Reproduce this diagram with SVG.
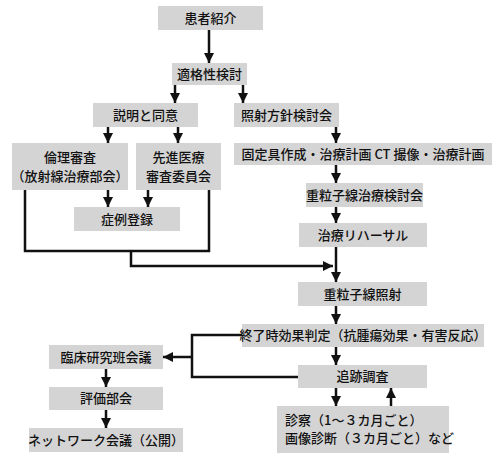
<svg xmlns="http://www.w3.org/2000/svg" width="500" height="461" viewBox="0 0 500 461">
<style>
.b{fill:#d4d4d4}
.t{font-family:"Noto Sans CJK JP","Noto Sans CJK SC",sans-serif;font-size:13px;font-weight:500;fill:#111;text-anchor:middle}
.c{fill:none;stroke:#111;stroke-width:2.5}
.a{fill:none;stroke:#111;stroke-width:2.5;marker-end:url(#ar)}
</style>
<defs>
<marker id="ar" viewBox="0 0 10 10" refX="10" refY="5" markerWidth="4" markerHeight="4" markerUnits="strokeWidth" orient="auto">
<path d="M0,0L10,5L0,10z" fill="#111"/>
</marker>
</defs>
<rect width="500" height="461" fill="#fff"/>
<g id="n1"><rect class="b" x="158" y="6" width="105" height="24"/><text class="t" x="210.5" y="23">患者紹介</text></g>
<g id="n2"><rect class="b" x="172" y="63" width="75" height="22"/><text class="t" x="209.5" y="79">適格性検討</text></g>
<g id="n3"><rect class="b" x="93" y="103" width="105" height="24"/><text class="t" x="145.5" y="120">説明と同意</text></g>
<g id="n4"><rect class="b" x="234" y="103" width="105" height="24"/><text class="t" x="286.5" y="120">照射方針検討会</text></g>
<g id="n5"><rect class="b" x="12" y="143" width="116" height="47"/><text class="t" x="70" y="162">倫理審査</text><text class="t" x="70" y="181">（放射線治療部会）</text></g>
<g id="n6"><rect class="b" x="136" y="143" width="85" height="47"/><text class="t" x="178.5" y="162">先進医療</text><text class="t" x="178.5" y="181">審査委員会</text></g>
<g id="n7"><rect class="b" x="74" y="207" width="106" height="24"/><text class="t" x="127" y="224">症例登録</text></g>
<g id="n8"><rect class="b" x="234" y="143" width="258" height="22"/><text class="t" x="363" y="159">固定具作成・治療計画 CT 撮像・治療計画</text></g>
<g id="n9"><rect class="b" x="306" y="183" width="117" height="24"/><text class="t" x="364.5" y="200">重粒子線治療検討会</text></g>
<g id="n10"><rect class="b" x="299" y="223" width="128" height="24"/><text class="t" x="363" y="240">治療リハーサル</text></g>
<g id="n11"><rect class="b" x="298" y="282" width="129" height="24"/><text class="t" x="362.5" y="299">重粒子線照射</text></g>
<g id="n12"><rect class="b" x="242" y="324" width="242" height="23"/><text class="t" x="363" y="340">終了時効果判定（抗腫瘍効果・有害反応）</text></g>
<g id="n13"><rect class="b" x="298" y="365" width="129" height="23"/><text class="t" x="362.5" y="381">追跡調査</text></g>
<g id="n14"><rect class="b" x="277" y="406" width="172" height="47"/><text class="t" x="285" y="425" style="text-anchor:start">診察（1～３カ月ごと）</text><text class="t" x="285" y="443" style="text-anchor:start">画像診断（３カ月ごと）など</text></g>
<g id="n15"><rect class="b" x="49" y="345" width="114" height="24"/><text class="t" x="106" y="362">臨床研究班会議</text></g>
<g id="n16"><rect class="b" x="49" y="387" width="114" height="23"/><text class="t" x="106" y="403">評価部会</text></g>
<g id="n17"><rect class="b" x="29" y="428" width="154" height="24"/><text class="t" x="106" y="445">ネットワーク会議（公開）</text></g>
<g id="connectors">
<path class="a" d="M209,30V63"/>
<path class="a" d="M175,85V103"/>
<path class="a" d="M243,85V103"/>
<path class="a" d="M108,127V143"/>
<path class="a" d="M178,127V143"/>
<path class="a" d="M108,190V207"/>
<path class="a" d="M148,190V207"/>
<path class="c" d="M25,190V251H209V190"/>
<path class="a" d="M131,251V266H333"/>
<path class="a" d="M336,127V143"/>
<path class="a" d="M336,165V183"/>
<path class="a" d="M336,207V223"/>
<path class="a" d="M336,247V282"/>
<path class="a" d="M336,306V324"/>
<path class="a" d="M336,347V365"/>
<path class="a" d="M336,388V406"/>
<path class="a" d="M391,406V388"/>
<path class="c" d="M242,335H192V377H298"/>
<path class="a" d="M192,357H163"/>
<path class="a" d="M106,369V387"/>
<path class="a" d="M106,410V428"/>
</g>
</svg>
